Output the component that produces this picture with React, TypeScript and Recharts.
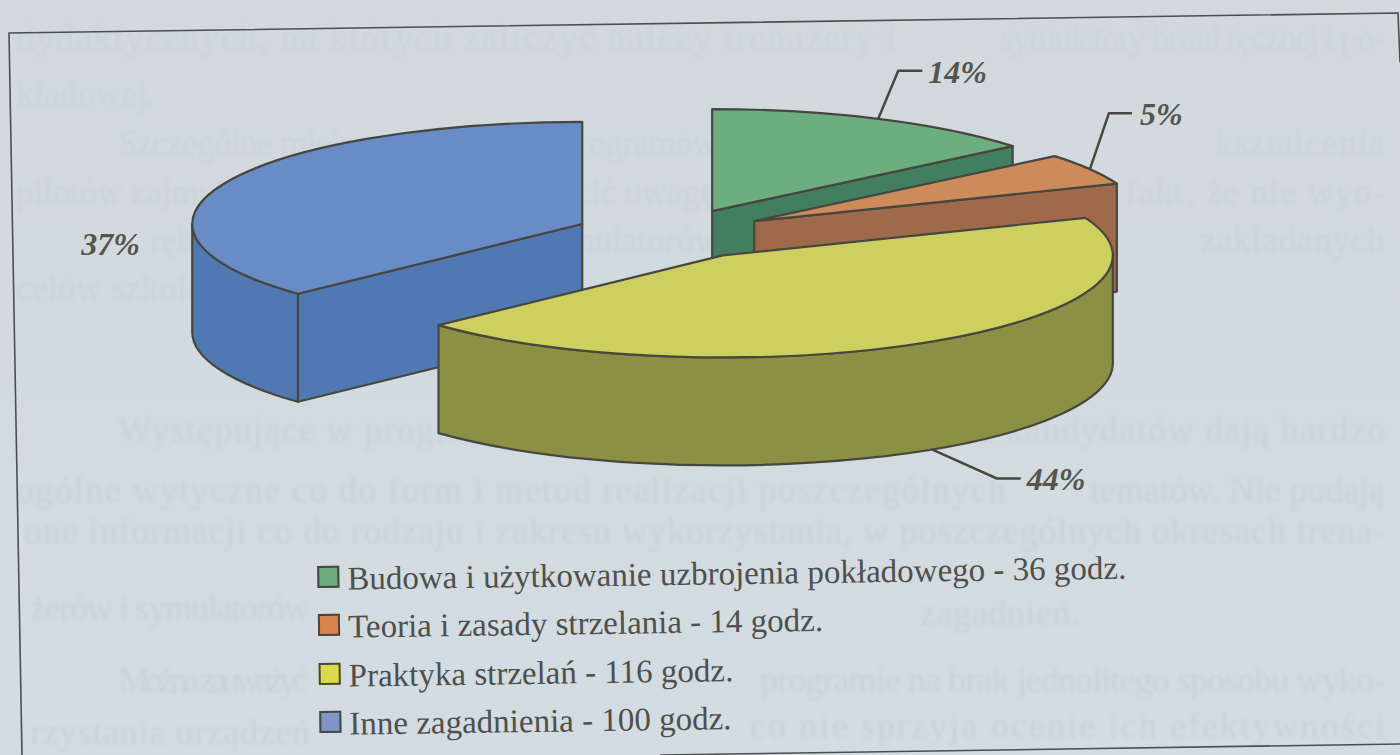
import { Legend, Pie, PieChart } from 'recharts';

const categories = [
  'Budowa i użytkowanie uzbrojenia pokładowego',
  'Teoria i zasady strzelania',
  'Praktyka strzelań',
  'Inne zagadnienia',
];
const hours = [36, 14, 116, 100];
const shares = [14, 5, 44, 37];
const topColors = ['#6dae80', '#cd8a5b', '#cdd05f', '#6a8cc6'];
const wallColors = ['#417f60', '#9f6a4b', '#8b9044', '#5079b4'];
const swatchColors = ['#6cab7c', '#d9844a', '#dcd94a', '#7f97c8'];

// blue slice goes first so that the yellow one paints over it
const paintOrder = [3, 0, 1, 2];
const rows = paintOrder.map((i) => ({
  name: categories[i],
  value: shares[i],
  top: topColors[i],
  wall: wallColors[i],
}));

// faint text showing through from the back of the scanned page
const ghostLines = [
  { x: 16, y: 50, w: 880, text: 'dydaktycznych, na których zaliczyć należy trenażery i' },
  { x: 1000, y: 50, w: 385, text: 'symulatory broni ręcznej i po-' },
  { x: 16, y: 106, w: 140, text: 'kładowej.' },
  { x: 118, y: 155, w: 600, text: 'Szczególne miejsce wśród treści programów' },
  { x: 1215, y: 155, w: 170, text: 'kształcenia' },
  { x: 16, y: 204, w: 700, text: 'pilotów zajmują ćwiczenia, należy zwrócić uwagę' },
  { x: 1125, y: 204, w: 260, text: 'fakt, że nie wyo-' },
  { x: 150, y: 252, w: 570, text: 'rębnia się w nich czasu dla symulatorów' },
  { x: 1200, y: 252, w: 185, text: 'zakładanych' },
  { x: 16, y: 300, w: 240, text: 'celów szkolenia.' },
  { x: 118, y: 442, w: 1267, text: 'Występujące w programach zalecenia dla instruktorów i kandydatów dają bardzo' },
  { x: 16, y: 502, w: 990, text: 'ogólne wytyczne co do form i metod realizacji poszczególnych' },
  { x: 1090, y: 502, w: 295, text: 'tematów. Nie podają' },
  { x: 24, y: 543, w: 1361, text: 'one informacji co do rodzaju i zakresu wykorzystania, w poszczególnych okresach trena-' },
  { x: 30, y: 620, w: 280, text: 'żerów i symulatorów' },
  { x: 920, y: 625, w: 160, text: 'zagadnień.' },
  { x: 118, y: 692, w: 190, text: 'Można zauważyć' },
  { x: 760, y: 692, w: 625, text: 'programie na brak jednolitego sposobu wyko-' },
  { x: 30, y: 744, w: 280, text: 'rzystania urządzeń' },
  { x: 750, y: 738, w: 635, text: 'co nie sprzyja ocenie ich efektywności' },
];

const CX = 671;
const CY = 234;
const RADIUS = 390;
const TILT = 102 / 390;
const DEPTH = 108;
const EXPLODE = 0.248;
const START = 90 - (shares[0] + shares[1] + shares[2]) * 3.6;
const SERIF = '"Liberation Serif", serif';
const INK = '#47473f';

const rad = (deg: number) => (deg * Math.PI) / 180;

// offset of a slice pulled out along its middle angle
function sliceOrigin(mid: number) {
  return {
    x: CX + EXPLODE * RADIUS * Math.cos(rad(mid)),
    y: CY - EXPLODE * RADIUS * TILT * Math.sin(rad(mid)),
  };
}

function SliceShape(props: any) {
  const { startAngle, endAngle, outerRadius } = props;
  const top = props.top ?? props.payload?.top;
  const wall = props.wall ?? props.payload?.wall;
  const mid = (startAngle + endAngle) / 2;
  const o = sliceOrigin(mid);
  const rx = outerRadius;
  const ry = outerRadius * TILT;
  const at = (deg: number, drop = 0) =>
    `${o.x + rx * Math.cos(rad(deg))} ${o.y - ry * Math.sin(rad(deg)) + drop}`;
  const apex = (drop = 0) => `${o.x} ${o.y + drop}`;
  const sweep = Math.abs(startAngle - endAngle);
  const large = sweep > 180 ? 1 : 0;

  // angle from 12 o'clock going clockwise
  const t0 = ((90 - startAngle) % 360 + 360) % 360;
  const t1 = t0 + sweep;
  const fromTop = (t: number) => 90 - t;
  const w0 = Math.max(t0, 90);
  const w1 = Math.min(t1, 270);
  const common = { stroke: INK, strokeWidth: 2.2, strokeLinejoin: 'round' as const };

  return (
    <g>
      {Math.sin(rad(t0)) < -0.01 && (
        <path
          d={`M${apex()} L${at(startAngle)} L${at(startAngle, DEPTH)} L${apex(DEPTH)} Z`}
          fill={wall}
          {...common}
        />
      )}
      {Math.sin(rad(t1)) > 0.01 && (
        <path
          d={`M${apex()} L${at(endAngle)} L${at(endAngle, DEPTH)} L${apex(DEPTH)} Z`}
          fill={wall}
          {...common}
        />
      )}
      {w0 < w1 && (
        <path
          d={`M${at(fromTop(w0))} A${rx} ${ry} 0 0 1 ${at(fromTop(w1))} L${at(fromTop(w1), DEPTH)} A${rx} ${ry} 0 0 0 ${at(fromTop(w0), DEPTH)} Z`}
          fill={wall}
          {...common}
        />
      )}
      <path
        d={`M${apex()} L${at(startAngle)} A${rx} ${ry} 0 ${large} 1 ${at(endAngle)} Z`}
        fill={top}
        {...common}
      />
    </g>
  );
}

// elbow of the leader line and the text, relative to the rim of the slice
const labelPlaces: Record<string, { leader: boolean; drop: number; ex: number; ey: number; run: number; tx: number; ty: number }> = {
  [categories[0]]: { leader: true, drop: 0, ex: 20, ey: -48, run: 24, tx: 50, ty: -36 },
  [categories[1]]: { leader: true, drop: 0, ex: 19, ey: -56, run: 23, tx: 50, ty: -44 },
  [categories[2]]: { leader: true, drop: DEPTH, ex: 65, ey: 29, run: 24, tx: 95, ty: 41 },
  [categories[3]]: { leader: false, drop: 0, ex: 0, ey: 0, run: 0, tx: -143, ty: 72 },
};

function SliceLabel(props: any) {
  const name = props.name ?? props.payload?.name;
  const value = props.value;
  const mid = props.midAngle;
  const place = labelPlaces[name];
  if (!place) return null;
  const o = sliceOrigin(mid);
  const ax = o.x + RADIUS * Math.cos(rad(mid));
  const ay = o.y - RADIUS * TILT * Math.sin(rad(mid)) + place.drop;
  return (
    <g>
      {place.leader && (
        <polyline
          points={`${ax},${ay} ${ax + place.ex},${ay + place.ey} ${ax + place.ex + place.run},${ay + place.ey}`}
          fill="none"
          stroke={INK}
          strokeWidth={2.5}
        />
      )}
      <text
        x={ax + place.tx}
        y={ay + place.ty}
        fill="#55554f"
        fontFamily={SERIF}
        fontSize={32}
        fontWeight="bold"
        fontStyle="italic"
      >
        {value}%
      </text>
    </g>
  );
}

function LegendBox() {
  return (
    <div
      style={{
        fontFamily: SERIF,
        fontSize: 33,
        color: '#4f4f4c',
        lineHeight: '48.3px',
        textAlign: 'left',
        transform: 'rotate(-0.8deg)',
        transformOrigin: '0 0',
      }}
    >
      {categories.map((name, i) => (
        <div key={name} style={{ display: 'flex', alignItems: 'center', height: 48.3, whiteSpace: 'nowrap' }}>
          <span
            style={{
              width: 18,
              height: 18,
              marginRight: 8,
              background: swatchColors[i],
              border: `2.5px solid ${INK}`,
              display: 'inline-block',
            }}
          />
          <span style={{ position: 'relative', top: 2 }}>{`${name} - ${hours[i]} godz.`}</span>
        </div>
      ))}
    </div>
  );
}

export default function App() {
  return (
    <div
      style={{
        position: 'absolute',
        left: 0,
        top: 0,
        width: 1400,
        height: 755,
        overflow: 'hidden',
        background: 'linear-gradient(180deg, #d1d9dd 0%, #d3dce2 100%)',
      }}
    >
      <svg width={1400} height={755} style={{ position: 'absolute', left: 0, top: 0 }}>
        <g fontFamily={SERIF} fontSize={36} fill="#cad3d8" style={{ filter: 'blur(1.4px)' }}>
          {ghostLines.map((l) => (
            <text key={`${l.x}-${l.y}`} x={l.x} y={l.y} textLength={l.w} lengthAdjust="spacing">
              {l.text}
            </text>
          ))}
        </g>
        <polyline points="22,755 9,33 1398,13 1400,62" fill="none" stroke="#4c4f50" strokeWidth={1.6} />
        <line x1={660} y1={755} x2={1400} y2={744} stroke="#4c4f50" strokeWidth={1.6} />
      </svg>
      <div style={{ position: 'absolute', left: 0, top: 0 }}>
        <PieChart width={1400} height={755} margin={{ top: 0, right: 0, bottom: 0, left: 0 }}>
          <Pie
            data={rows}
            dataKey="value"
            nameKey="name"
            cx={CX}
            cy={CY}
            innerRadius={0}
            outerRadius={RADIUS}
            startAngle={START}
            endAngle={START - 360}
            stroke="none"
            shape={SliceShape}
            label={SliceLabel}
            labelLine={false}
            isAnimationActive={false}
          />
          <Legend
            content={LegendBox}
            wrapperStyle={{ position: 'absolute', left: 317, top: 553, width: 900, bottom: 'auto' }}
          />
        </PieChart>
      </div>
    </div>
  );
}
